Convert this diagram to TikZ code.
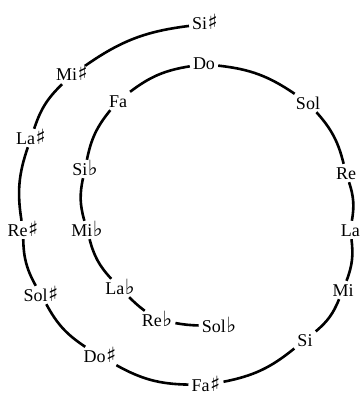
\documentclass[tikz,border=0pt]{standalone}
\usepackage{fontspec}
\setmainfont{Liberation Serif}
\newfontfamily\accfont{DejaVu Sans}
\newcommand{\notesharp}{\kern0.5pt{\accfont\bfseries\fontsize{21}{21}\selectfont ♯}}
\newcommand{\noteflat}{\kern0.5pt{\accfont\bfseries\fontsize{21}{21}\selectfont ♭}}
\tikzset{
  pitch/.style={inner sep=3pt, font=\fontsize{18}{20}\selectfont,
    text height=12pt, text depth=0pt},
  link/.style={line width=2.6pt, bend left=14},
  shortlink/.style={line width=2.6pt, bend left=4}
}

\begin{document}
\begin{tikzpicture}[x=1pt,y=1pt]
  \useasboundingbox (0,0) rectangle (363,-396);

  % inner turn
  \node[pitch] (solb) at (219,-326) {Sol\noteflat};
  \node[pitch] (reb)  at (157,-320) {Re\noteflat};
  \node[pitch] (lab)  at (120,-288) {La\noteflat};
  \node[pitch] (mib)  at (87,-230)  {Mi\noteflat};
  \node[pitch] (sib)  at (85,-169)  {Si\noteflat};
  \node[pitch] (fa)   at (118,-101) {Fa};
  \node[pitch] (do)   at (204,-64)  {Do};
  \node[pitch] (sol)  at (308,-103) {Sol};
  \node[pitch] (re)   at (346,-173) {Re};
  \node[pitch, anchor=east] (la) at (363,-230) {La};
  \node[pitch] (mi)   at (343,-290) {Mi};
  \node[pitch] (si)   at (305,-340) {Si};

  % outer turn
  \node[pitch] (fas)  at (206,-385) {Fa\notesharp};
  \node[pitch] (dos)  at (100,-356) {Do\notesharp};
  \node[pitch] (sols) at (41,-295)  {Sol\notesharp};
  \node[pitch] (res)  at (23,-230)  {Re\notesharp};
  \node[pitch] (las)  at (31,-138)  {La\notesharp};
  \node[pitch] (mis)  at (72,-75)   {Mi\notesharp};
  \node[pitch] (sis)  at (205,-24)  {Si\notesharp};

  % spiral of fifths, clockwise from the centre
  \draw[shortlink] (solb) to (reb);
  \draw[shortlink] (reb) to (lab);
  \foreach \a/\b in {lab/mib, mib/sib, sib/fa, fa/do, do/sol, sol/re,
      re/la, la/mi, mi/si, si/fas, fas/dos, dos/sols, sols/res,
      res/las, las/mis, mis/sis}
    \draw[link] (\a) to (\b);
\end{tikzpicture}
\end{document}
